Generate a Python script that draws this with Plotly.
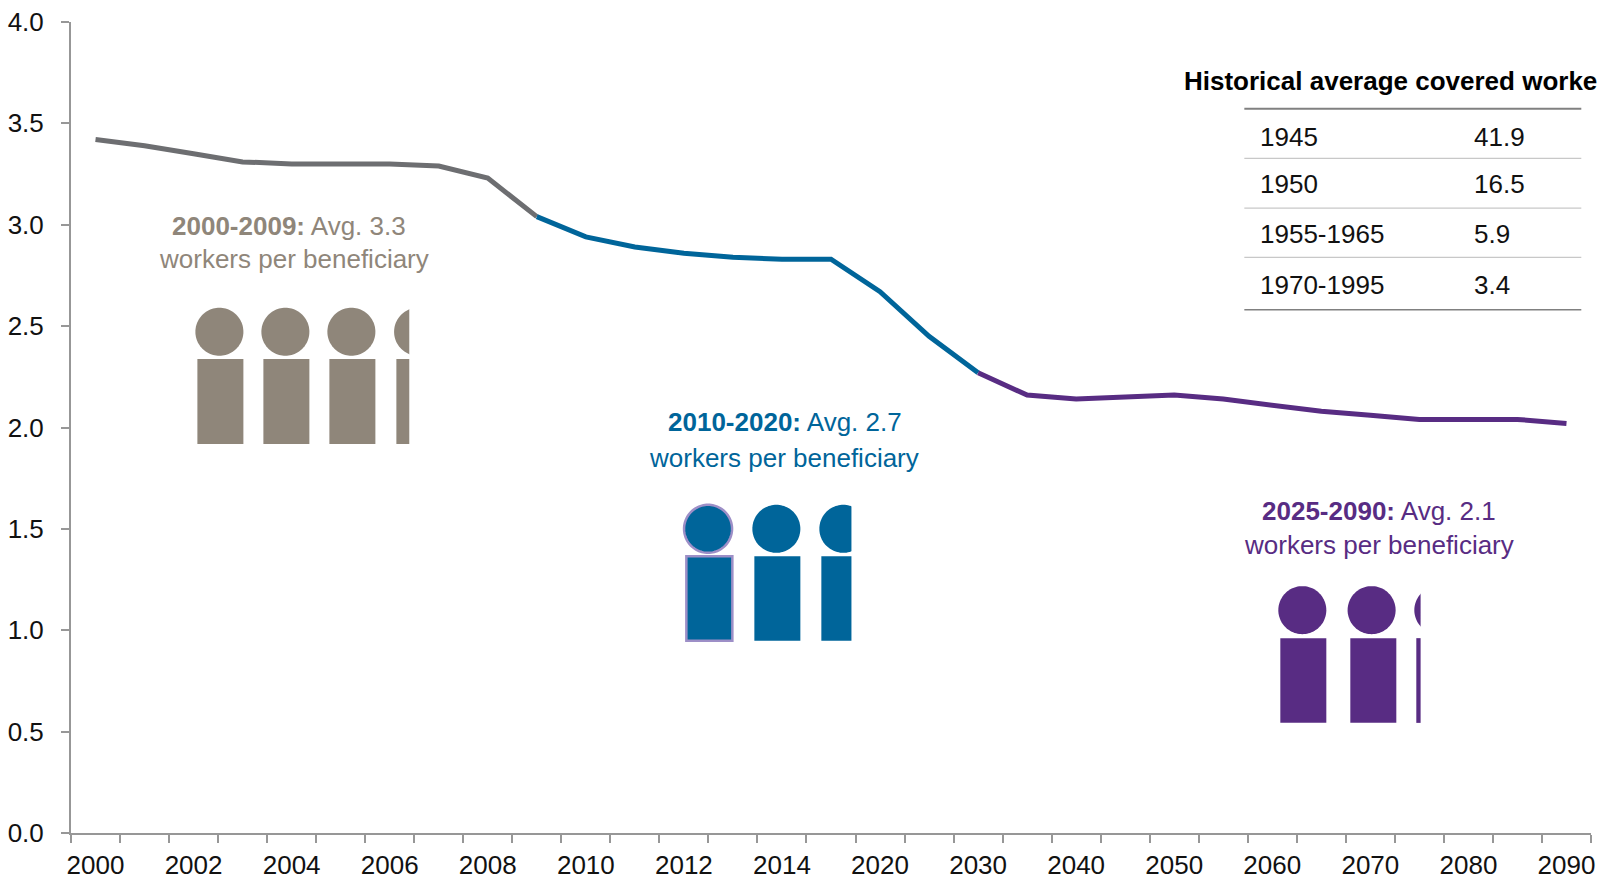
import math
import plotly.graph_objects as go

# Covered workers per beneficiary, by reporting period
periods = ["2000", "2001", "2002", "2003", "2004", "2005", "2006", "2007",
           "2008", "2009", "2010", "2011", "2012", "2013", "2014", "2015",
           "2020", "2025", "2030", "2035", "2040", "2045", "2050", "2055",
           "2060", "2065", "2070", "2075", "2080", "2085", "2090"]
ratios = [3.42, 3.39, 3.35, 3.31, 3.30, 3.30, 3.30, 3.29,
          3.23, 3.04, 2.94, 2.89, 2.86, 2.84, 2.83, 2.83,
          2.67, 2.45, 2.27, 2.16, 2.14, 2.15, 2.16, 2.14,
          2.11, 2.08, 2.06, 2.04, 2.04, 2.04, 2.02]
labelled_periods = ["2000", "2002", "2004", "2006", "2008", "2010", "2012", "2014",
                    "2020", "2030", "2040", "2050", "2060", "2070", "2080", "2090"]
y_ticks = [0.0, 0.5, 1.0, 1.5, 2.0, 2.5, 3.0, 3.5, 4.0]

# Era summaries
era_names = ["2000-2009", "2010-2020", "2025-2090"]
era_averages = [3.3, 2.7, 2.1]
era_last_period = ["2009", "2030", "2090"]

# Historical table
table_title = "Historical average covered worke"
table_periods = ["1945", "1950", "1955-1965", "1970-1995"]
table_values = ["41.9", "16.5", "5.9", "3.4"]

GREY, BLUE, PURPLE, TAUPE = "#6D6E71", "#00659A", "#582C83", "#8F867A"
OUTLINE = "#9D8FC7"
AXIS = "#979797"
FONT = "Liberation Sans, Arial, sans-serif"
FS = 26

W, H = 1598, 877
LEFT, RIGHT, TOP, BOTTOM = 70.6, 1590.7, 22.0, 832.8


def px(x):
    return (x - LEFT) / (RIGHT - LEFT)


def py(y):
    return (BOTTOM - y) / (BOTTOM - TOP)


fig = go.Figure()

# One line per era, each starting where the previous one stopped
positions = list(range(len(periods)))
line_colors = [GREY, BLUE, PURPLE]
start = 0
for name, last, color in zip(era_names, era_last_period, line_colors):
    end = periods.index(last)
    fig.add_trace(go.Scatter(
        x=positions[start:end + 1], y=ratios[start:end + 1], mode="lines", name=name,
        line=dict(color=color, width=5), showlegend=False, hoverinfo="x+y",
    ))
    start = end

shapes = []
annotations = []


def rect_path(x0, x1, y0, y1):
    return (f"M{px(x0):.5f},{py(y0):.5f} L{px(x1):.5f},{py(y0):.5f} "
            f"L{px(x1):.5f},{py(y1):.5f} L{px(x0):.5f},{py(y1):.5f} Z")


def head_path(cx, cy, r, x_limit):
    pts = []
    for k in range(96):
        a = 2 * math.pi * k / 96
        pts.append((min(cx + r * math.cos(a), x_limit), cy + r * math.sin(a)))
    return "M" + " L".join(f"{px(a):.5f},{py(b):.5f}" for a, b in pts) + " Z"


def add_person(body_left, head_cx, head_cy, body_top, body_bottom, share, color, outline=None):
    # Whole figures are 46 wide; a part-figure is cut to its share of a 43 wide slot
    x_limit = body_left + (46 if share == 1.0 else 43 * share)
    line = dict(color=outline, width=2.5) if outline else dict(width=0)
    shapes.append(dict(type="path", xref="paper", yref="paper", path=head_path(head_cx, head_cy, 24, x_limit),
                       fillcolor=color, line=line, layer="above"))
    shapes.append(dict(type="path", xref="paper", yref="paper", path=rect_path(body_left, x_limit, body_top, body_bottom),
                       fillcolor=color, line=line, layer="above"))


# Pictograms: whole figures plus a part-figure for the fractional share of the average
layouts = [
    dict(bodies=[197, 263, 329, 396], heads=[219, 285, 351, 417.7], cy=331.7, top=359, bottom=444, color=TAUPE),
    dict(bodies=[686, 754, 821], heads=[707.7, 776, 843], cy=528.7, top=556, bottom=640.7, color=BLUE),
    dict(bodies=[1280, 1350, 1416], heads=[1302, 1371.3, 1438], cy=610, top=638, bottom=722.7, color=PURPLE),
]
for i, (avg, g) in enumerate(zip(era_averages, layouts)):
    whole = int(avg)
    for j in range(whole + 1):
        share = 1.0 if j < whole else round(avg - whole, 3)
        outline = OUTLINE if (i == 1 and j == 0) else None
        add_person(g["bodies"][j], g["heads"][j], g["cy"], g["top"], g["bottom"], share, g["color"], outline)

# Era captions
captions = [
    dict(cx1=289, cx2=293.5, y1=225.5, y2=259, color=TAUPE),
    dict(cx1=784.5, cx2=784, y1=422, y2=457.5, color=BLUE),
    dict(cx1=1378.5, cx2=1379, y1=510.5, y2=545, color=PURPLE),
]
for name, avg, c in zip(era_names, era_averages, captions):
    annotations.append(dict(xref="paper", yref="paper", x=px(c["cx1"]), y=py(c["y1"]),
                            text=f"<b>{name}:</b> Avg. {avg:.1f}", showarrow=False,
                            xanchor="center", yanchor="middle",
                            font=dict(family=FONT, size=FS, color=c["color"])))
    annotations.append(dict(xref="paper", yref="paper", x=px(c["cx2"]), y=py(c["y2"]),
                            text="workers per beneficiary", showarrow=False,
                            xanchor="center", yanchor="middle",
                            font=dict(family=FONT, size=FS, color=c["color"])))

# Table heading, rows and rules
annotations.append(dict(xref="paper", yref="paper", x=px(1182), y=py(81),
                        text=f"<b>{table_title}</b>", showarrow=False, xanchor="left", yanchor="middle",
                        font=dict(family=FONT, size=26, color="#000000")))
row_y = [136.5, 183.5, 234, 284.5]
for label, value, y in zip(table_periods, table_values, row_y):
    annotations.append(dict(xref="paper", yref="paper", x=px(1258), y=py(y), text=label, showarrow=False,
                            xanchor="left", yanchor="middle", font=dict(family=FONT, size=FS, color="#111111")))
    annotations.append(dict(xref="paper", yref="paper", x=px(1472), y=py(y), text=value, showarrow=False,
                            xanchor="left", yanchor="middle", font=dict(family=FONT, size=FS, color="#111111")))
rules = [(108.7, "#808080", 2), (158.3, "#C8C8C8", 1.2), (208, "#C8C8C8", 1.2),
         (257.3, "#C8C8C8", 1.2), (309.7, "#808080", 1.6)]
for y, color, width in rules:
    shapes.append(dict(type="line", xref="paper", yref="paper", x0=px(1244), x1=px(1581), y0=py(y), y1=py(y),
                       line=dict(color=color, width=width)))

boundaries = [p - 0.5 for p in positions] + [positions[-1] + 0.5]
fig.update_layout(
    width=W, height=H,
    margin=dict(l=LEFT, r=W - RIGHT, t=TOP, b=H - BOTTOM, pad=0, autoexpand=False),
    paper_bgcolor="white", plot_bgcolor="white",
    font=dict(family=FONT, size=FS, color="#111111"),
    shapes=shapes, annotations=annotations,
    xaxis=dict(
        automargin=False,
        range=[-0.5, len(periods) - 0.5], showgrid=False, zeroline=False,
        showline=True, linecolor=AXIS, linewidth=2,
        tickmode="array", tickvals=[periods.index(p) for p in labelled_periods], ticktext=labelled_periods,
        ticks="outside", ticklen=8, tickwidth=1, tickcolor="rgba(0,0,0,0)", ticklabelstandoff=0,
        minor=dict(tickmode="array", tickvals=boundaries, ticks="outside", ticklen=8,
                   tickwidth=2, tickcolor=AXIS, showgrid=False),
        tickfont=dict(family=FONT, size=FS, color="#111111"),
    ),
    yaxis=dict(
        automargin=False,
        range=[0, 4], showgrid=False, zeroline=False,
        showline=True, linecolor=AXIS, linewidth=2,
        tickmode="array", tickvals=y_ticks, tickformat=".1f",
        ticks="outside", ticklen=8, tickwidth=2, tickcolor=AXIS, ticklabelstandoff=12,
        tickfont=dict(family=FONT, size=FS, color="#111111"),
    ),
)

fig.write_html("out.html")
